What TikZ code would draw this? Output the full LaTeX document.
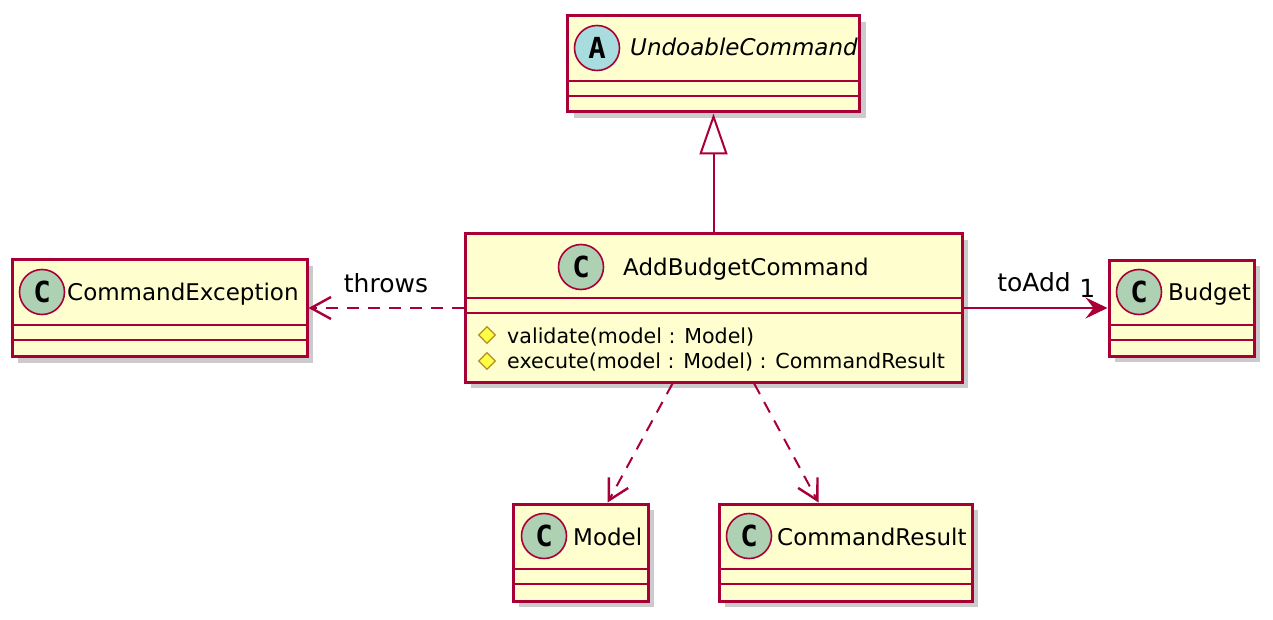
\documentclass[tikz,border=0pt]{standalone}
\usepackage{fontspec}
\setmainfont{DejaVu Sans}
\setmonofont{DejaVu Sans Mono}
\usetikzlibrary{positioning, calc, arrows.meta, shadows, shapes.geometric}
\definecolor{umlred}{HTML}{A80036}
\definecolor{umlfill}{HTML}{FEFECE}
\definecolor{spotclass}{HTML}{ADD1B2}
\definecolor{spotabstract}{HTML}{A9DCDF}
\definecolor{protfill}{HTML}{FFFF44}
\definecolor{protdraw}{HTML}{B38D22}
\tikzset{
  classbox/.style={rectangle, draw=umlred, fill=umlfill, line width=3pt, inner sep=0pt,
    drop shadow={shadow xshift=6pt, shadow yshift=-6pt, fill=black!45, opacity=0.45}},
  spot/.style={circle, draw=umlred, line width=1.6pt, fill=spotclass, minimum size=45pt,
    inner sep=0pt, font=\fontsize{29}{29}\ttfamily\bfseries},
  classname/.style={anchor=base west, inner sep=0pt, font=\fontsize{23}{25}\selectfont},
  member/.style={anchor=base west, inner sep=0pt, font=\fontsize{20.6}{22}\selectfont},
  prot/.style={diamond, draw=protdraw, fill=protfill, line width=1.2pt, minimum size=17pt, inner sep=0pt},
  sep/.style={draw=umlred, line width=2.8pt},
  link/.style={color=umlred, line width=2pt},
  label/.style={inner sep=0pt, text=black, font=\fontsize{25}{27}\selectfont},
}

\begin{document}
\begin{tikzpicture}[x=1pt, y=-1pt]
  \useasboundingbox (0,0) rectangle (1273,620);

  % classes
  \node[classbox, minimum width=292pt, minimum height=96pt] (undo) at (713.5,64) {};
  \node[classbox, minimum width=497pt, minimum height=148pt] (add) at (713.5,308) {};
  \node[classbox, minimum width=295pt, minimum height=97pt] (exc) at (159.5,308) {};
  \node[classbox, minimum width=145pt, minimum height=96pt] (budget) at (1181.5,308) {};
  \node[classbox, minimum width=135pt, minimum height=97pt] (model) at (580.5,552.5) {};
  \node[classbox, minimum width=253pt, minimum height=97pt] (result) at (845.5,552.5) {};

  \draw[sep] (undo.west |- 0,81) -- (undo.east |- 0,81);
  \draw[sep] (undo.west |- 0,96) -- (undo.east |- 0,96);
  \draw[sep] (add.west |- 0,298) -- (add.east |- 0,298);
  \draw[sep] (add.west |- 0,313) -- (add.east |- 0,313);
  \draw[sep] (exc.west |- 0,325) -- (exc.east |- 0,325);
  \draw[sep] (exc.west |- 0,340) -- (exc.east |- 0,340);
  \draw[sep] (budget.west |- 0,325) -- (budget.east |- 0,325);
  \draw[sep] (budget.west |- 0,340) -- (budget.east |- 0,340);
  \draw[sep] (model.west |- 0,569) -- (model.east |- 0,569);
  \draw[sep] (model.west |- 0,584) -- (model.east |- 0,584);
  \draw[sep] (result.west |- 0,569) -- (result.east |- 0,569);
  \draw[sep] (result.west |- 0,584) -- (result.east |- 0,584);

  % headers
  \node[spot, fill=spotabstract] (undospot) at (597,48) {A};
  \node[classname, font=\fontsize{23}{25}\itshape] (undoname) at (630,56) {UndoableCommand};
  \node[spot] (addspot) at (581,267) {C};
  \node[classname] (addname) at (623,275) {AddBudgetCommand};
  \node[spot] (excspot) at (42,292) {C};
  \node[classname] (excname) at (67,300) {CommandException};
  \node[spot] (budgetspot) at (1139,292) {C};
  \node[classname] (budgetname) at (1168,300) {Budget};
  \node[spot] (modelspot) at (544,536) {C};
  \node[classname] (modelname) at (573,545) {Model};
  \node[spot] (resultspot) at (749,536) {C};
  \node[classname] (resultname) at (777,545) {CommandResult};

  % methods
  \node[prot] (validateicon) at (487,335) {};
  \node[member] (validate) at (507,343) {validate(model : Model)};
  \node[prot] (executeicon) at (487,361) {};
  \node[member] (execute) at (507,368) {execute(model : Model) : CommandResult};

  % relations
  \draw[link, -{Triangle[open, length=41pt, width=28pt, line width=2pt]}] (add) -- (undo);
  \path[link, dashed, dash pattern=on 12pt off 9pt, -{Straight Barb[length=20pt, width=22pt, line width=2.4pt]}]
    (add) edge node[label, pos=0.5, above=14pt] (throws) {throws} (exc)
    (add) edge (model)
    (add) edge (result);
  \path[link, -{Stealth[length=22pt, width=21pt, inset=8pt]}]
    (add) edge node[label, pos=0.49, above=15pt] (toadd) {toAdd}
               node[label, pos=0.86, above=10pt] (mult) {1} (budget);
\end{tikzpicture}
\end{document}
